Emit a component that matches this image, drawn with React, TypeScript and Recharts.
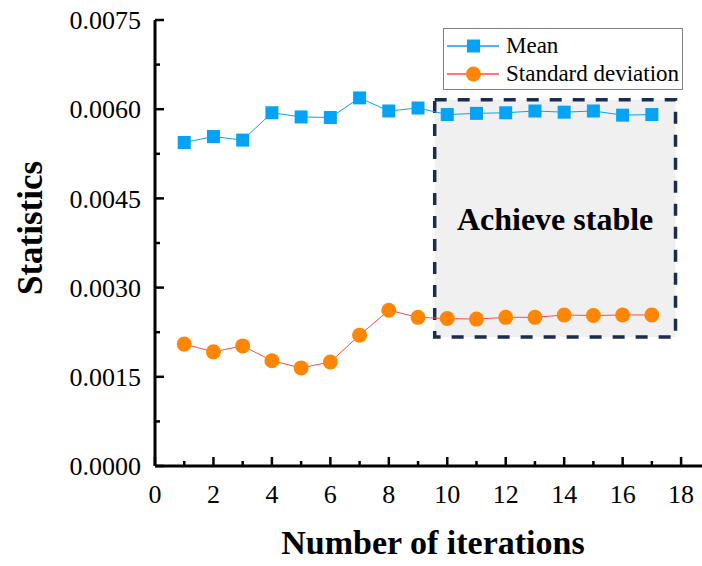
import { Legend, Line, LineChart, ReferenceArea, XAxis, YAxis } from 'recharts';

const iterations = [1, 2, 3, 4, 5, 6, 7, 8, 9, 10, 11, 12, 13, 14, 15, 16, 17];
const meanValues = [
  0.00544, 0.00554, 0.00548, 0.00594, 0.00587, 0.00586, 0.00619, 0.00597, 0.00602,
  0.00591, 0.00593, 0.00594, 0.00597, 0.00595, 0.00597, 0.0059, 0.00591,
];
const stdValues = [
  0.00205, 0.00192, 0.00202, 0.00177, 0.00165, 0.00175, 0.0022, 0.00262, 0.0025,
  0.00248, 0.00247, 0.0025, 0.0025, 0.00254, 0.00253, 0.00254, 0.00254,
];
const xTicks = [0, 1, 2, 3, 4, 5, 6, 7, 8, 9, 10, 11, 12, 13, 14, 15, 16, 17, 18];
const yTicks = [0, 0.00075, 0.0015, 0.00225, 0.003, 0.00375, 0.0045, 0.00525, 0.006, 0.00675, 0.0075];
const stableX = [9.57, 17.81];
const stableY = [0.00217, 0.00616];

const data = iterations.map((it, i) => ({ it, mean: meanValues[i], std: stdValues[i] }));

const FONT = '"Liberation Serif", "Times New Roman", serif';
const BLUE = '#05a3f5';
const ORANGE = '#ff8505';
const RED = '#ff4a4a';

const isMajorX = (v: number) => v % 2 === 0;
const isMajorY = (v: number) => Math.round(v / 0.00075) % 2 === 0;

const XTick = (props: any) => {
  const { x, y, payload, top } = props;
  const major = isMajorX(payload.value);
  const len = major ? 9 : 5;
  return (
    <g>
      <line x1={x} x2={x} y1={y} y2={top ? y + len : y - len} stroke='#000' strokeWidth={2.5} />
      {!top && major && (
        <text x={x} y={y + 37} textAnchor='middle' fontSize={26} fontFamily={FONT} fill='#000'>
          {payload.value}
        </text>
      )}
    </g>
  );
};

const YTick = (props: any) => {
  const { x, y, payload, right } = props;
  const major = isMajorY(payload.value);
  const len = major ? 9 : 5;
  return (
    <g>
      <line x1={x} x2={right ? x - len : x + len} y1={y} y2={y} stroke='#000' strokeWidth={2.5} />
      {!right && major && (
        <text x={x - 14} y={y} dy='0.35em' textAnchor='end' fontSize={26} fontFamily={FONT} fill='#000'>
          {payload.value.toFixed(4)}
        </text>
      )}
    </g>
  );
};

const YTitle = (props: any) => {
  const { viewBox } = props;
  const cx = 30;
  const cy = viewBox.y + viewBox.height / 2 - 15;
  return (
    <text
      x={cx}
      y={cy}
      transform={`rotate(-90 ${cx} ${cy})`}
      textAnchor='middle'
      dy='0.35em'
      fontSize={35}
      fontWeight='bold'
      fontFamily={FONT}
      fill='#000'
    >
      Statistics
    </text>
  );
};

const SquareDot = (props: any) => {
  const { cx, cy } = props;
  if (cx == null || cy == null) return null;
  return <rect x={cx - 6.5} y={cy - 6.5} width={13} height={13} fill={BLUE} />;
};

const LegendBox = (props: any) => {
  const { payload = [] } = props;
  return (
    <div
      style={{
        width: 240,
        height: 62,
        boxSizing: 'border-box',
        border: '1px solid #808080',
        background: '#fff',
        position: 'relative',
        fontFamily: FONT,
        fontSize: 23,
        color: '#000',
      }}
    >
      {payload.map((entry: any, i: number) => (
        <div key={entry.value} style={{ position: 'absolute', left: 0, top: 3 + i * 28, height: 28, width: 238 }}>
          <svg width={56} height={28} style={{ position: 'absolute', left: 2, top: 0 }}>
            <line x1={1} x2={53} y1={14} y2={14} stroke={entry.dataKey === 'mean' ? BLUE : RED} strokeWidth={1.5} />
            {entry.dataKey === 'mean' ? (
              <rect x={21} y={7.5} width={13} height={13} fill={BLUE} />
            ) : (
              <circle cx={27.5} cy={14} r={7.5} fill={ORANGE} />
            )}
          </svg>
          <span style={{ position: 'absolute', left: 62, top: 0, lineHeight: '28px', whiteSpace: 'nowrap' }}>
            {entry.value}
          </span>
        </div>
      ))}
    </div>
  );
};

const App = () => {
  return (
    <div style={{ position: 'absolute', left: 0, top: 0, width: 702, height: 566, overflow: 'hidden', background: '#fff' }}>
      <LineChart width={706} height={566} data={data} margin={{ top: 20, right: 3, bottom: 0, left: 0 }}>
        <ReferenceArea
          x1={stableX[0]}
          x2={stableX[1]}
          y1={stableY[0]}
          y2={stableY[1]}
          fill='#f0f0f0'
          fillOpacity={1}
          stroke='#1c2c4c'
          strokeWidth={3.5}
          strokeDasharray='12 11'
          label={{ value: 'Achieve stable', position: 'center', fontSize: 32, fontWeight: 'bold', fontFamily: FONT, fill: '#000' }}
        />
        <XAxis
          dataKey='it'
          type='number'
          domain={[0, 18.75]}
          ticks={xTicks}
          interval={0}
          height={100}
          tickSize={0}
          tickMargin={0}
          tick={(p: any) => <XTick {...p} />}
          axisLine={{ stroke: '#000', strokeWidth: 3 }}
          label={{
            value: 'Number of iterations',
            position: 'insideBottom',
            offset: 12,
            dx: 4,
            fontSize: 34,
            fontWeight: 'bold',
            fontFamily: FONT,
            fill: '#000',
          }}
        />
        <XAxis
          xAxisId='top'
          orientation='top'
          type='number'
          domain={[0, 18.75]}
          ticks={xTicks}
          interval={0}
          height={0}
          tickSize={0}
          tickMargin={0}
          tick={(p: any) => <XTick {...p} top />}
          axisLine={{ stroke: '#000', strokeWidth: 3 }}
        />
        <YAxis
          type='number'
          domain={[0, 0.0075]}
          ticks={yTicks}
          interval={0}
          width={155}
          tickSize={0}
          tickMargin={0}
          tick={(p: any) => <YTick {...p} />}
          axisLine={{ stroke: '#000', strokeWidth: 3 }}
          label={{ content: (p: any) => <YTitle {...p} /> }}
        />
        <YAxis
          yAxisId='right'
          orientation='right'
          type='number'
          domain={[0, 0.0075]}
          ticks={yTicks}
          interval={0}
          width={0}
          tickSize={0}
          tickMargin={0}
          tick={(p: any) => <YTick {...p} right />}
          axisLine={{ stroke: '#000', strokeWidth: 3 }}
        />
        <Line
          dataKey='mean'
          name='Mean'
          stroke={BLUE}
          strokeWidth={1}
          dot={(p: any) => <SquareDot key={p.index} {...p} />}
          activeDot={false}
          isAnimationActive={false}
        />
        <Line
          dataKey='std'
          name='Standard deviation'
          stroke={RED}
          strokeWidth={1}
          dot={{ r: 7.5, fill: ORANGE, stroke: 'none', strokeWidth: 0 }}
          activeDot={false}
          isAnimationActive={false}
        />
        <Legend
          layout='horizontal'
          verticalAlign='middle'
          align='center'
          content={(p: any) => <LegendBox {...p} />}
          wrapperStyle={{ left: 443, top: 28, width: 240, height: 62 }}
        />
      </LineChart>
    </div>
  );
};

export default App;
